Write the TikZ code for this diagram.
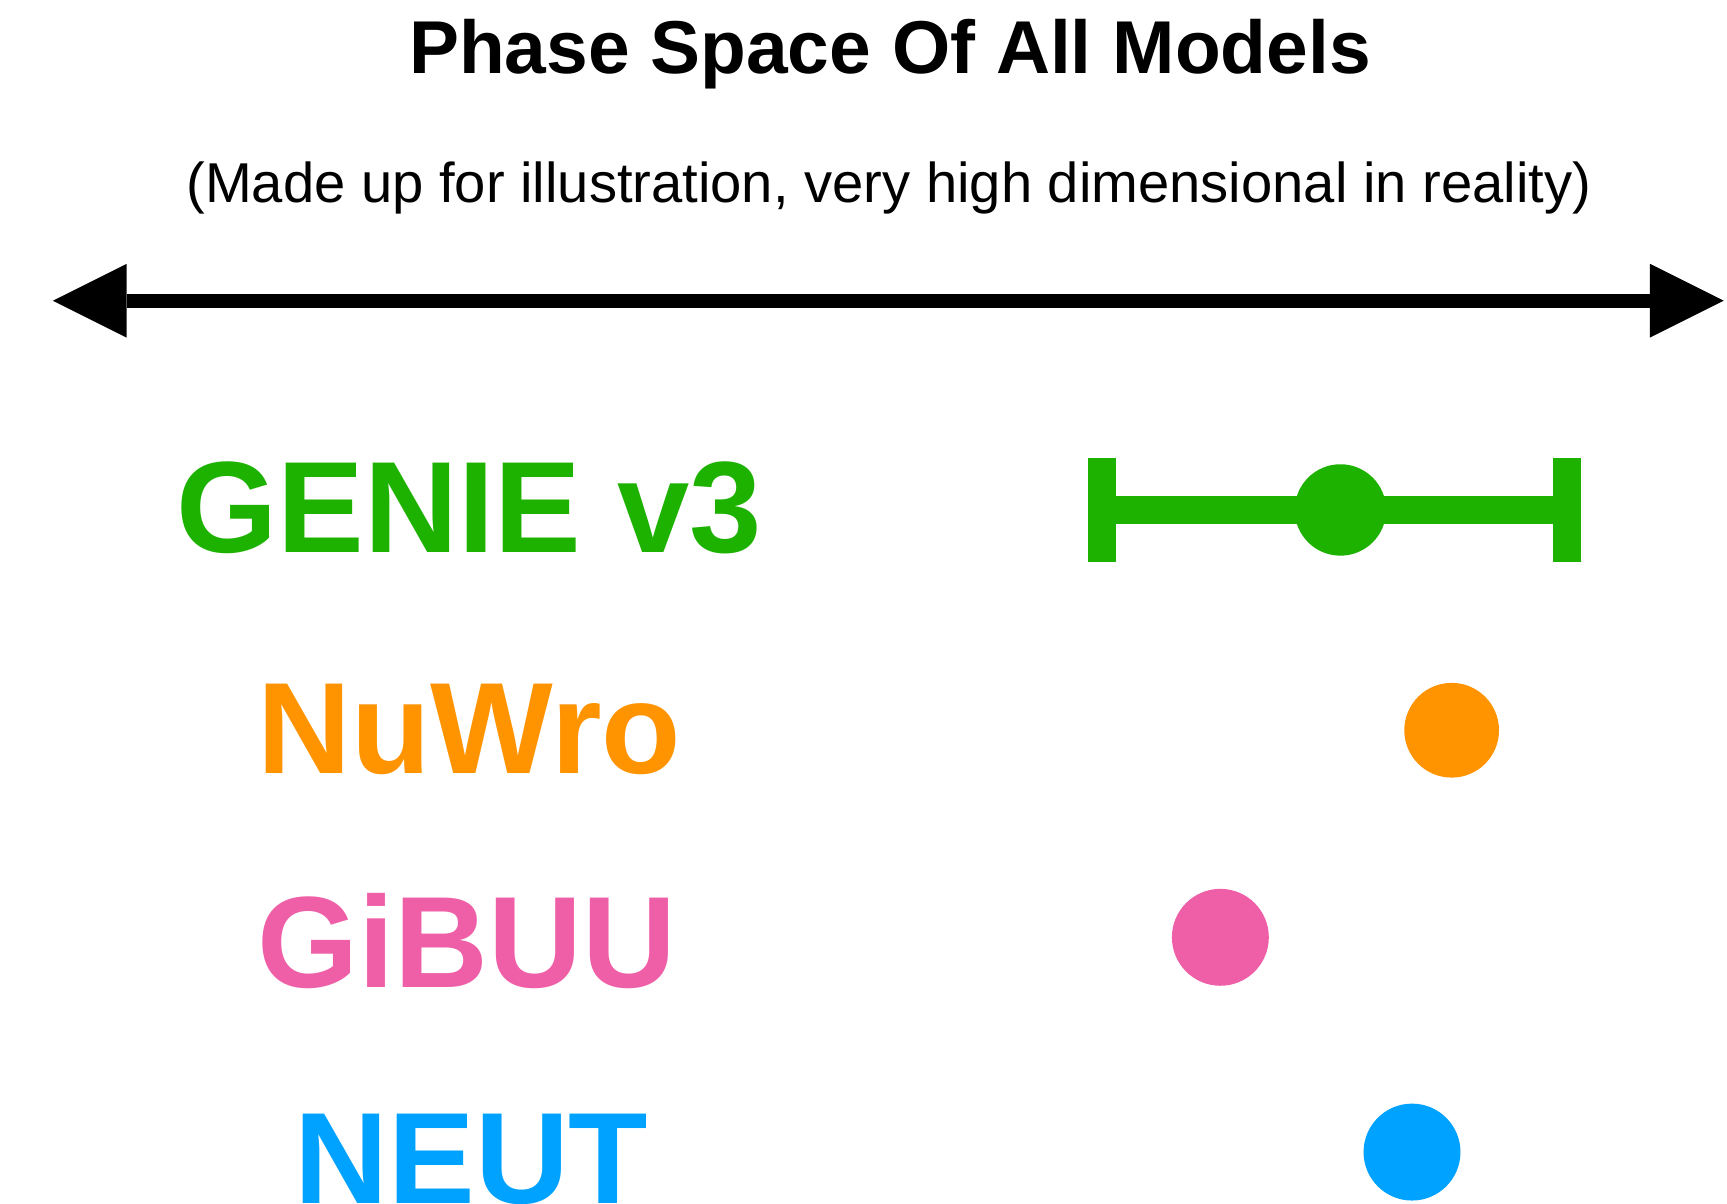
\documentclass[tikz,border=0pt]{standalone}
\usepackage{fontspec}
\setmainfont{Liberation Sans}
\usetikzlibrary{arrows.meta}
\definecolor{genieG}{HTML}{1DB100}
\definecolor{nuwroO}{HTML}{FF9300}
\definecolor{gibuuP}{HTML}{EF5FA7}
\definecolor{neutB}{HTML}{00A2FF}
\tikzset{
  modellabel/.style={anchor=base, inner sep=0pt, font=\fontsize{59}{70}\selectfont\bfseries},
  modeldot/.style={circle, inner sep=0pt, minimum size=44pt},
  capbar/.style={rectangle, inner sep=0pt, minimum width=12.5pt, minimum height=47pt, fill=genieG},
  axisline/.style={line width=6.5pt, {Triangle[length=33.5pt,width=33.5pt,line width=0pt]}-{Triangle[length=33.5pt,width=33.5pt,line width=0pt]}}
}
\begin{document}
\begin{tikzpicture}[x=0.5pt,y=-0.5pt]
\useasboundingbox (0,0) rectangle (1568,1093);
% titles
\node[anchor=base, inner sep=0pt, font=\fontsize{34}{40}\selectfont\bfseries] (title) at (808,67) {Phase Space Of All Models};
\node[anchor=base, inner sep=0pt, font=\fontsize{25.5}{30}\selectfont] (subtitle) at (807,184) {(Made up for illustration, very high dimensional in reality)};
% axis
\coordinate (axL) at (48,273);
\coordinate (axR) at (1565,273);
\draw[axisline] (axL) -- (axR);
% labels
\node[modellabel, text=genieG] (genie) at (426,502) {GENIE v3};
\node[modellabel, text=nuwroO] (nuwro) at (426,702) {NuWro};
\node[modellabel, text=gibuuP] (gibuu) at (424,897) {GiBUU};
\node[modellabel, text=neutB] (neut) at (428,1093) {NEUT};
% GENIE error bar
\node[capbar] (capL) at (1000.5,463) {};
\node[capbar] (capR) at (1422.5,463) {};
\draw[genieG, line width=12.5pt] (capL.center) -- (capR.center);
\node[modeldot, minimum size=41.5pt, fill=genieG] (genieDot) at (1217,463) {};
% other dots
\node[modeldot, minimum size=43pt, fill=nuwroO] (nuwroDot) at (1318,663) {};
\node[modeldot, fill=gibuuP] (gibuuDot) at (1108,851) {};
\node[modeldot, fill=neutB] (neutDot) at (1282,1046) {};
\end{tikzpicture}
\end{document}
